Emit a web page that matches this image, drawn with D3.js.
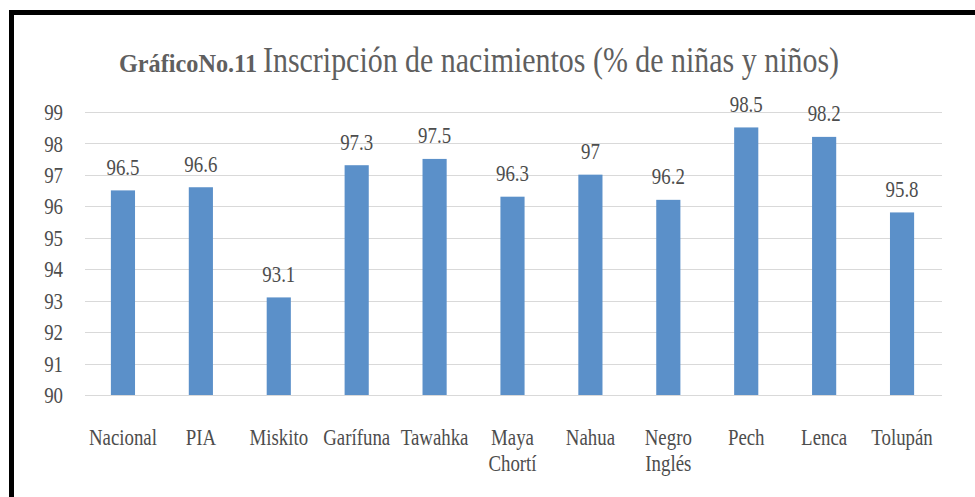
<!DOCTYPE html>
<html>
<head>
<meta charset="utf-8">
<script src="https://cdn.jsdelivr.net/npm/d3@7"></script>
<style>
  html, body { margin: 0; padding: 0; background: #fff; }
  svg { display: block; }
</style>
</head>
<body>
<script>
// Categories (x axis) and values
var categories = ["Nacional", "PIA", "Miskito", "Garífuna", "Tawahka", "Maya Chortí",
                  "Nahua", "Negro Inglés", "Pech", "Lenca", "Tolupán"];
var values = [96.5, 96.6, 93.1, 97.3, 97.5, 96.3, 97, 96.2, 98.5, 98.2, 95.8];
var y_ticks = [90, 91, 92, 93, 94, 95, 96, 97, 98, 99];

var title_bold = "GráficoNo.11";
var title_rest = "Inscripción de nacimientos (% de niñas y niños)";

var width = 975, height = 497;
var font = "'Liberation Serif', 'Times New Roman', serif";
// the text in the picture is squeezed horizontally
var squeeze = 0.82;
var bar_color = "#5b90c9";
var text_color = "#4d4d4d";

var svg = d3.select("body").append("svg")
    .attr("width", width).attr("height", height);

svg.append("rect").attr("width", width).attr("height", height).attr("fill", "#fff");

// black frame on top and left
svg.append("line").attr("x1", 9).attr("x2", width).attr("y1", 12.5).attr("y2", 12.5)
    .attr("stroke", "#000").attr("stroke-width", 5);
svg.append("line").attr("x1", 11.5).attr("x2", 11.5).attr("y1", 10).attr("y2", height)
    .attr("stroke", "#000").attr("stroke-width", 5);

// title
svg.append("text")
    .attr("x", 119).attr("y", 72)
    .attr("font-family", font).attr("font-weight", "bold").attr("font-size", 26)
    .attr("fill", "#5f5f5f")
    .attr("textLength", 138).attr("lengthAdjust", "spacingAndGlyphs")
    .text(title_bold);
svg.append("text")
    .attr("x", 263).attr("y", 72)
    .attr("font-family", font).attr("font-size", 36)
    .attr("fill", "#5f5f5f")
    .attr("textLength", 576).attr("lengthAdjust", "spacingAndGlyphs")
    .text(title_rest);

var x = d3.scaleBand()
    .domain(categories)
    .range([84, 941])
    .paddingInner(0.69)
    .paddingOuter(0.345);

var y = d3.scaleLinear()
    .domain([90, 99])
    .range([395, 111.7]);

// gridlines
svg.append("g")
    .selectAll("line")
    .data(y_ticks)
    .join("line")
    .attr("x1", 85).attr("x2", 942)
    .attr("y1", function(d){ return Math.round(y(d)) + 0.5; })
    .attr("y2", function(d){ return Math.round(y(d)) + 0.5; })
    .attr("stroke", "#d9d9d9").attr("stroke-width", 1.2);

// y axis labels
var yAxis = svg.append("g")
    .attr("transform", "translate(85,0)")
    .call(d3.axisLeft(y).tickValues(y_ticks).tickSize(0).tickPadding(22));
yAxis.select(".domain").remove();
yAxis.selectAll("text")
    .attr("font-family", font).attr("font-size", 23)
    .attr("fill", text_color)
    .attr("x", -22 / squeeze)
    .attr("dy", "0.34em")
    .attr("transform", "scale(" + squeeze + ",1)");

// bars
svg.append("g")
    .selectAll("rect")
    .data(values)
    .join("rect")
    .attr("x", function(d, i){ return x(categories[i]); })
    .attr("width", x.bandwidth())
    .attr("y", function(d){ return y(d); })
    .attr("height", function(d){ return y(90) - y(d); })
    .attr("fill", bar_color);

// value labels
svg.append("g")
    .selectAll("text")
    .data(values)
    .join("text")
    .attr("transform", function(d, i){
        return "translate(" + (x(categories[i]) + x.bandwidth() / 2) + "," + (y(d) - 15.5) + ") scale(" + squeeze + ",1)";
    })
    .attr("text-anchor", "middle")
    .attr("font-family", font).attr("font-size", 23)
    .attr("fill", text_color)
    .text(function(d){ return d; });

// category labels, two-word names wrap onto two lines
var xlab = svg.append("g")
    .selectAll("text")
    .data(categories)
    .join("text")
    .attr("transform", function(d){
        return "translate(" + (x(d) + x.bandwidth() / 2) + ",445) scale(" + squeeze + ",1)";
    })
    .attr("text-anchor", "middle")
    .attr("font-family", font).attr("font-size", 23)
    .attr("fill", text_color);
xlab.selectAll("tspan")
    .data(function(d){ return d.split(" "); })
    .join("tspan")
    .attr("x", 0)
    .attr("y", function(d, i){ return i * 26; })
    .text(function(d){ return d; });
</script>
</body>
</html>
